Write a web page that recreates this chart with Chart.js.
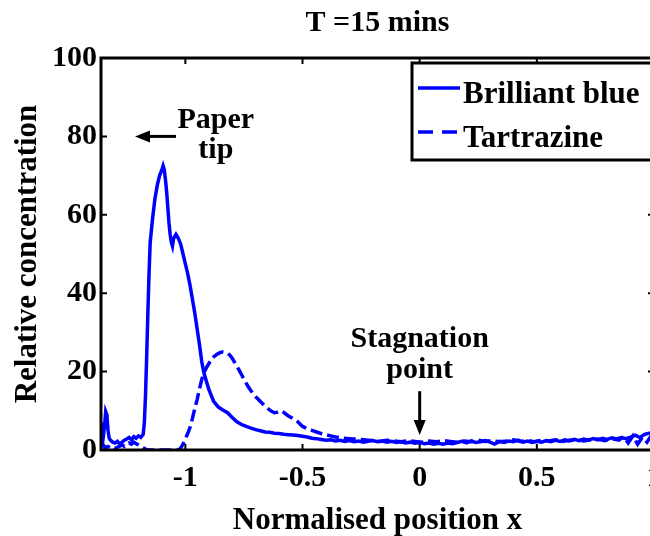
<!DOCTYPE html>
<html lang="en">
<head>
  <meta charset="UTF-8">
  <title>T =15 mins</title>
  <script src="https://cdn.jsdelivr.net/npm/chart.js"></script>
  <style>
    html, body { margin: 0; padding: 0; background: #fff; overflow: hidden; }
    canvas { display: block; }
  </style>
</head>
<body>
  <canvas id="chart" width="680" height="536"></canvas>

  <script>
    const xTicks = [-1, -0.5, 0, 0.5, 1];
    const yTicks = [0, 20, 40, 60, 80, 100];

    const blueX = [
      -1.36, -1.355, -1.35, -1.345, -1.34, -1.335, -1.33, -1.325, -1.32, -1.31,
      -1.30, -1.29, -1.28, -1.27, -1.26, -1.25, -1.24, -1.23, -1.22, -1.21,
      -1.20, -1.19, -1.18, -1.175, -1.17, -1.165, -1.16, -1.155, -1.15, -1.145,
      -1.14, -1.13, -1.12, -1.11, -1.10, -1.095, -1.09, -1.085, -1.08, -1.075,
      -1.07, -1.065, -1.06, -1.055, -1.05, -1.04, -1.03, -1.02, -1.01, -1.00,
      -0.99, -0.98, -0.97, -0.96, -0.95, -0.94, -0.93, -0.92, -0.91, -0.90,
      -0.89, -0.88, -0.86, -0.84, -0.82, -0.80, -0.78, -0.76, -0.74, -0.72,
      -0.70, -0.68, -0.66, -0.64, -0.62, -0.60, -0.58, -0.56, -0.54, -0.52,
      -0.50, -0.48, -0.46, -0.44, -0.42, -0.40, -0.38, -0.36, -0.34, -0.32,
      -0.30, -0.28, -0.26, -0.24, -0.22, -0.20, -0.18, -0.16, -0.14, -0.12,
      -0.10, -0.08, -0.06, -0.04, -0.02, 0.00, 0.02, 0.04, 0.06, 0.08,
      0.10, 0.12, 0.14, 0.16, 0.18, 0.20, 0.22, 0.24, 0.26, 0.28,
      0.30, 0.32, 0.34, 0.36, 0.38, 0.40, 0.42, 0.44, 0.46, 0.48,
      0.50, 0.52, 0.54, 0.56, 0.58, 0.60, 0.62, 0.64, 0.66, 0.68,
      0.70, 0.72, 0.74, 0.76, 0.78, 0.80, 0.82, 0.84, 0.86, 0.88,
      0.90, 0.92, 0.94, 0.96, 0.98, 1.00
    ];
    const blueY = [
      4, 7, 3.5, 6, 9.8, 9, 5, 3, 2.5, 2,
      1.8, 2.2, 1.5, 2, 2.5, 2.8, 3.2, 2.6, 3.4, 3,
      3.6, 3.2, 4, 7, 14, 24, 35, 45, 53, 56,
      59, 64, 67.5, 70, 71.5, 72.5, 71.5, 69, 66, 62,
      58, 55, 53, 52, 54, 55, 54, 52.5, 50, 47.5,
      45, 42, 38.5, 35, 31, 27, 22.5, 19.5, 17.5, 15.5,
      14, 12.5, 11, 10.2, 9.5, 8.3, 7.2, 6.5, 6, 5.6,
      5.2, 4.9, 4.6, 4.5, 4.3, 4.2, 4.0, 3.9, 3.8, 3.7,
      3.5, 3.3, 3.0, 2.9, 2.7, 2.5, 2.6, 2.3, 2.5, 2.2,
      2.4, 2.1, 2.3, 2.0, 2.2, 2.4, 2.1, 2.3, 2.0, 2.2,
      1.9, 2.1, 1.8, 2.0, 1.7, 1.9, 1.6, 1.8, 1.5, 1.7,
      1.5, 1.8, 1.6, 1.9, 2.2, 1.8, 2.3, 1.9, 2.1, 2.4,
      2.0, 1.5, 2.2, 1.9, 2.3, 2.1, 2.5, 2.0, 2.3, 1.9,
      2.2, 2.0, 2.4, 2.1, 2.5, 2.2, 2.6, 2.3, 2.7, 2.4,
      2.8, 2.5, 2.9, 2.6, 3.0, 2.7, 3.1, 2.8, 3.2, 2.9,
      3.3, 3.8, 3.2, 4.0, 4.3, 4.5
    ];

    const tartX = [
      -1.36, -1.35, -1.34, -1.33, -1.32, -1.31, -1.30, -1.29, -1.28, -1.27,
      -1.26, -1.25, -1.24, -1.23, -1.22, -1.21, -1.20, -1.19, -1.18, -1.17,
      -1.16, -1.10, -1.03, -1.02, -1.01, -1.00, -0.99, -0.98, -0.97, -0.96,
      -0.95, -0.94, -0.93, -0.92, -0.91, -0.90, -0.89, -0.88, -0.87, -0.86,
      -0.85, -0.84, -0.83, -0.82, -0.81, -0.80, -0.79, -0.78, -0.77, -0.76,
      -0.75, -0.74, -0.73, -0.72, -0.71, -0.70, -0.69, -0.68, -0.67, -0.66,
      -0.65, -0.64, -0.63, -0.62, -0.61, -0.60, -0.59, -0.58, -0.57, -0.56,
      -0.54, -0.52, -0.50, -0.48, -0.46, -0.44, -0.42, -0.40, -0.38, -0.36,
      -0.34, -0.32, -0.30, -0.28, -0.26, -0.24, -0.22, -0.20, -0.17, -0.14,
      -0.11, -0.08, -0.05, -0.02, 0.01, 0.04, 0.07, 0.10, 0.13, 0.16,
      0.19, 0.22, 0.25, 0.28, 0.31, 0.34, 0.37, 0.40, 0.43, 0.46,
      0.49, 0.52, 0.55, 0.58, 0.61, 0.64, 0.67, 0.70, 0.73, 0.76,
      0.79, 0.82, 0.85, 0.87, 0.89, 0.91, 0.93, 0.95, 0.97, 0.99, 1.00
    ];
    const tartY = [
      2, 1.2, 0.6, 0.9, 0.5, 0.8, 0.4, 0.7, 1.0, 1.3,
      0.9, 1.4, 1.8, 1.5, 2.0, 1.6, 1.3, 1.0, 0.6, 0.2,
      0, 0, 0, 0.5, 1.5, 2.8, 4.2, 5.8, 8, 10.5,
      12.8, 15.5, 18, 19.8, 21, 22, 23, 23.7, 24.2, 24.6,
      24.9, 25, 24.9, 24.7, 24.2, 23.4, 22.4, 21.4, 20.3, 19.2,
      18.1, 17, 16, 15.1, 14.3, 13.6, 13, 12.4, 11.8, 11.2,
      10.7, 10.2, 9.8, 9.5, 9.6, 9.9, 10, 9.6, 9.1, 8.7,
      8.0, 7.2, 6.0, 5.5, 5.0, 4.6, 4.2, 3.9, 3.6, 3.3,
      3.2, 3.0, 2.9, 2.8, 2.7, 2.6, 2.5, 2.4, 2.2, 2.5,
      2.3, 2.1, 2.4, 2.2, 2.0, 2.3, 2.1, 2.4, 2.2, 2.0,
      2.3, 2.1, 2.5, 2.2, 2.4, 2.1, 2.3, 2.6, 2.2, 2.4,
      2.1, 2.5, 2.3, 2.6, 2.2, 2.5, 2.7, 2.3, 2.6, 2.8,
      2.4, 2.9, 2.5, 3.4, 1.8, 3.6, 1.5, 3.2, 2.0, 3.8, 4.2
    ];

    const FONT = "'Liberation Serif', 'Times New Roman', serif";
    Chart.defaults.font.family = FONT;
    Chart.defaults.font.weight = 'bold';
    Chart.defaults.color = '#000';

    function arrow(ctx, x0, y0, x1, y1) {
      const ang = Math.atan2(y1 - y0, x1 - x0);
      const head = 15, half = 6;
      const bx = x1 - head * Math.cos(ang), by = y1 - head * Math.sin(ang);
      ctx.lineWidth = 3;
      ctx.beginPath(); ctx.moveTo(x0, y0); ctx.lineTo(bx, by); ctx.stroke();
      ctx.beginPath();
      ctx.moveTo(x1, y1);
      ctx.lineTo(bx - half * Math.sin(ang), by + half * Math.cos(ang));
      ctx.lineTo(bx + half * Math.sin(ang), by - half * Math.cos(ang));
      ctx.closePath();
      ctx.fill();
    }

    // box with inward ticks on all four sides
    const framePlugin = {
      id: 'frame',
      afterDatasetsDraw(chart) {
        const {ctx, chartArea: a, scales: {x, y}} = chart;
        const len = 6;
        ctx.save();
        ctx.strokeStyle = '#000';
        ctx.lineWidth = 2;
        ctx.beginPath();
        x.ticks.forEach(t => {
          const px = x.getPixelForValue(t.value);
          ctx.moveTo(px, a.bottom); ctx.lineTo(px, a.bottom - len);
          ctx.moveTo(px, a.top); ctx.lineTo(px, a.top + len);
        });
        y.ticks.forEach(t => {
          const py = y.getPixelForValue(t.value);
          ctx.moveTo(a.left, py); ctx.lineTo(a.left + len, py);
          ctx.moveTo(a.right, py); ctx.lineTo(a.right - len, py);
        });
        ctx.stroke();
        ctx.lineWidth = 3;
        ctx.strokeRect(a.left, a.top, a.right - a.left, a.bottom - a.top);
        ctx.restore();
      }
    };

    const notePlugin = {
      id: 'notes',
      afterDatasetsDraw(chart) {
        const {ctx, scales: {x, y}} = chart;
        ctx.save();
        ctx.fillStyle = '#000';
        ctx.strokeStyle = '#000';
        ctx.font = 'bold 30px ' + FONT;
        ctx.textAlign = 'center';
        ctx.textBaseline = 'alphabetic';
        ctx.fillText('Paper', x.getPixelForValue(-0.87), y.getPixelForValue(82.1));
        ctx.fillText('tip', x.getPixelForValue(-0.87), y.getPixelForValue(74.5));
        ctx.fillText('Stagnation', x.getPixelForValue(0), y.getPixelForValue(26.3));
        ctx.fillText('point', x.getPixelForValue(0), y.getPixelForValue(18.4));
        arrow(ctx, x.getPixelForValue(-1.04), y.getPixelForValue(80),
                   x.getPixelForValue(-1.215), y.getPixelForValue(80));
        arrow(ctx, x.getPixelForValue(0), y.getPixelForValue(15),
                   x.getPixelForValue(0), y.getPixelForValue(3.8));
        ctx.restore();
      }
    };

    const legendDash = { 'Tartrazine': [15, 9] };

    const boxLegend = {
      id: 'boxLegend',
      afterDatasetsDraw(chart) {
        const {ctx, chartArea: a} = chart;
        const left = a.right - 242, top = a.top + 5, w = 242, h = 97;
        ctx.save();
        ctx.fillStyle = '#fff';
        ctx.fillRect(left, top, w, h);
        ctx.lineWidth = 3;
        ctx.strokeStyle = '#000';
        ctx.strokeRect(left, top, w, h);
        chart.data.datasets.forEach((ds, i) => {
          const ly = top + 25 + i * 44;
          ctx.strokeStyle = ds.borderColor;
          ctx.lineWidth = ds.borderWidth;
          ctx.setLineDash(legendDash[ds.label] || []);
          ctx.beginPath(); ctx.moveTo(left + 6, ly); ctx.lineTo(left + 48, ly); ctx.stroke();
          ctx.setLineDash([]);
          ctx.fillStyle = '#000';
          ctx.font = 'bold 31px ' + FONT;
          ctx.textBaseline = 'alphabetic';
          ctx.fillText(ds.label, left + 51, ly + 15);
        });
        ctx.restore();
      }
    };

    new Chart(document.getElementById('chart'), {
      type: 'line',
      data: {
        datasets: [{
          label: 'Brilliant blue',
          data: blueX.map((v, i) => ({x: v, y: blueY[i]})),
          borderColor: '#0000ff',
          borderWidth: 3.5,
          pointRadius: 0,
          fill: false
        }, {
          label: 'Tartrazine',
          data: tartX.map((v, i) => ({x: v, y: tartY[i]})),
          borderColor: '#0000ff',
          borderWidth: 3.5,
          borderDash: [12, 5],
          pointRadius: 0,
          fill: false
        }]
      },
      options: {
        responsive: false,
        animation: false,
        devicePixelRatio: 1,
        events: [],
        layout: { padding: { left: 0, right: 26, top: 0, bottom: 0 } },
        plugins: {
          legend: { display: false },
          tooltip: { enabled: false },
          title: {
            display: true,
            fullSize: false,
            text: 'T =15 mins',
            font: { size: 30, weight: 'bold', lineHeight: 1 },
            padding: { top: 8, bottom: 20 }
          }
        },
        scales: {
          x: {
            type: 'linear',
            min: -1.36,
            max: 1,
            grid: { display: false, drawTicks: false },
            border: { display: false },
            afterBuildTicks: s => { s.ticks = xTicks.map(v => ({value: v})); },
            afterFit: s => { s.height = 86; },
            ticks: {
              font: { size: 30, weight: 'bold' },
              padding: 10,
              maxRotation: 0,
              callback: v => String(v)
            },
            title: {
              display: true,
              text: 'Normalised position x',
              font: { size: 31, weight: 'bold', lineHeight: 1 },
              padding: { top: 0, bottom: 0 }
            }
          },
          y: {
            min: 0,
            max: 100,
            grid: { display: false, drawTicks: false },
            border: { display: false },
            afterBuildTicks: s => { s.ticks = yTicks.map(v => ({value: v})); },
            afterFit: s => { s.width = 101; },
            ticks: { font: { size: 30, weight: 'bold' }, padding: 4 },
            title: {
              display: true,
              text: 'Relative concentration',
              font: { size: 31, weight: 'bold', lineHeight: 1 },
              padding: { top: 12, bottom: 0 }
            }
          }
        }
      },
      plugins: [framePlugin, notePlugin, boxLegend]
    });
  </script>
</body>
</html>
